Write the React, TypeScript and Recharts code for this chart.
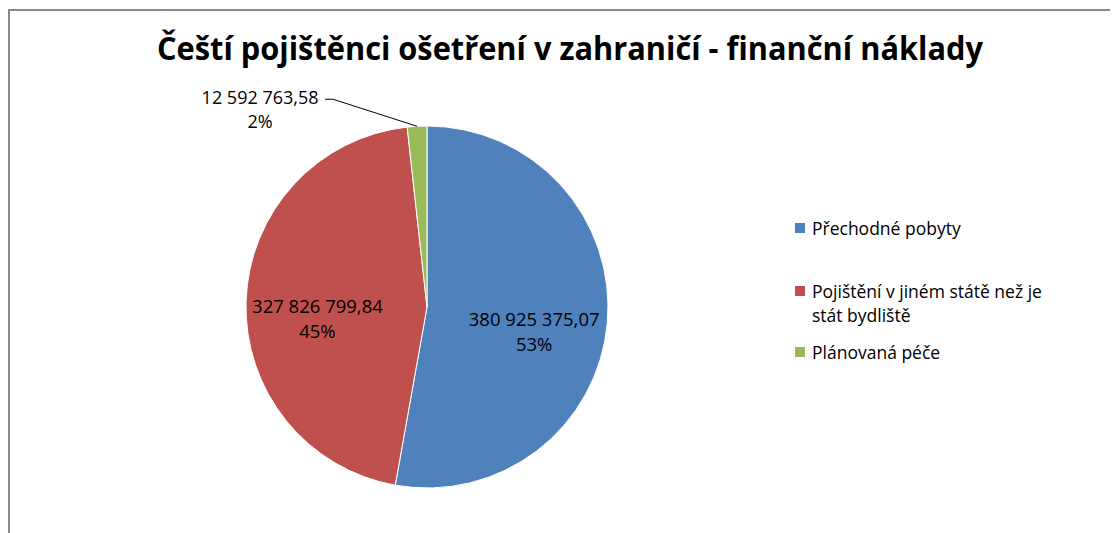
import React from 'react';
import { PieChart, Pie, Cell, Legend } from 'recharts';

const chartTitle = 'Čeští pojištěnci ošetření v zahraničí - finanční náklady';
const categories = ['Přechodné pobyty', 'Pojištění v jiném státě než je stát bydliště', 'Plánovaná péče'];
const costs = [380925375.07, 327826799.84, 12592763.58];
const colors = ['#4F81BD', '#C0504D', '#9BBB59'];

const data = categories.map((name, i) => ({ name, value: costs[i] }));

const FONT = '"Open Sans", "DejaVu Sans", sans-serif';
const RAD = Math.PI / 180;

// 380925375.07 -> "380 925 375,07"
const formatCzk = (v: number): string => {
  const [int, dec] = v.toFixed(2).split('.');
  return int.replace(/\B(?=(\d{3})+(?!\d))/g, ' ') + ',' + dec;
};

const renderLabel = (props: any) => {
  const { cx, cy, midAngle, outerRadius, percent, value, index } = props;
  const text1 = formatCzk(value);
  const text2 = `${Math.round(percent * 100)}%`;
  const cos = Math.cos(-midAngle * RAD);
  const sin = Math.sin(-midAngle * RAD);

  if (percent < 0.05) {
    // small slice: label outside with a leader line
    const ex = cx + outerRadius * cos;
    const ey = cy + outerRadius * sin;
    const kx = ex - 84;
    const ky = ey - 27;
    const tx = kx - 8;
    return (
      <g key={`lbl-${index}`}>
        <polyline points={`${ex},${ey} ${kx},${ky} ${tx},${ky}`} fill="none" stroke="#000" strokeWidth={1} />
        <text x={tx - 65} y={ky - 2} textAnchor="middle" dominantBaseline="central" fontFamily={FONT} fontSize={18} fill="#000">
          {text1}
        </text>
        <text x={tx - 65} y={ky + 22} textAnchor="middle" dominantBaseline="central" fontFamily={FONT} fontSize={18} fill="#000">
          {text2}
        </text>
      </g>
    );
  }

  const r = outerRadius * 0.6;
  const x = cx + r * cos - 1;
  const y = cy + r * sin + 14;
  return (
    <g key={`lbl-${index}`}>
      <text x={x} y={y - 12} textAnchor="middle" dominantBaseline="central" fontFamily={FONT} fontSize={18.5} fill="#000">
        {text1}
      </text>
      <text x={x} y={y + 13} textAnchor="middle" dominantBaseline="central" fontFamily={FONT} fontSize={18.5} fill="#000">
        {text2}
      </text>
    </g>
  );
};

const legendGaps = [0, 39, 13];

const LegendContent: React.FC<any> = () => (
  <div style={{ fontFamily: FONT, fontSize: 17.5, lineHeight: '24px', color: '#000' }}>
    {categories.map((name, i) => (
      <div key={name} style={{ display: 'flex', alignItems: 'flex-start', marginTop: legendGaps[i] }}>
        <span style={{ width: 10, height: 10, background: colors[i], marginTop: 7, marginRight: 7, flexShrink: 0 }} />
        <span style={{ width: 255 }}>{name}</span>
      </div>
    ))}
  </div>
);

export default function App() {
  const W = 1110;
  const H = 525;
  return (
    <div style={{ position: 'relative', width: W, height: H, overflow: 'hidden', background: '#fff' }}>
      <div
        style={{
          position: 'absolute',
          left: 0,
          top: 1,
          width: W + 50,
          height: H + 50,
          borderTop: '2px solid #898989',
          borderLeft: '2px solid #898989',
          boxSizing: 'border-box',
        }}
      />
      <svg width={W} height={70} style={{ position: 'absolute', left: 0, top: 0 }}>
        <text
          x={562}
          y={52}
          textAnchor="middle"
          fontFamily={FONT}
          fontWeight={700}
          fontSize={32}
          textLength={826}
          lengthAdjust="spacingAndGlyphs"
          fill="#000"
        >
          {chartTitle}
        </text>
      </svg>
      <div style={{ position: 'absolute', left: 0, top: 0 }}>
        <PieChart width={W} height={H} margin={{ top: 0, right: 0, bottom: 0, left: 0 }}>
          <Pie
            data={data}
            dataKey="value"
            nameKey="name"
            cx={419}
            cy={299}
            outerRadius={181}
            startAngle={90}
            endAngle={-270}
            stroke="#fff"
            strokeWidth={1}
            label={renderLabel}
            labelLine={false}
            isAnimationActive={false}
          >
            {data.map((d, i) => (
              <Cell key={d.name} fill={colors[i]} />
            ))}
          </Pie>
          <Legend
            layout="vertical"
            align="right"
            verticalAlign="top"
            content={<LegendContent />}
            wrapperStyle={{ position: 'absolute', left: 787, top: 208, width: 300 }}
          />
        </PieChart>
      </div>
    </div>
  );
}
